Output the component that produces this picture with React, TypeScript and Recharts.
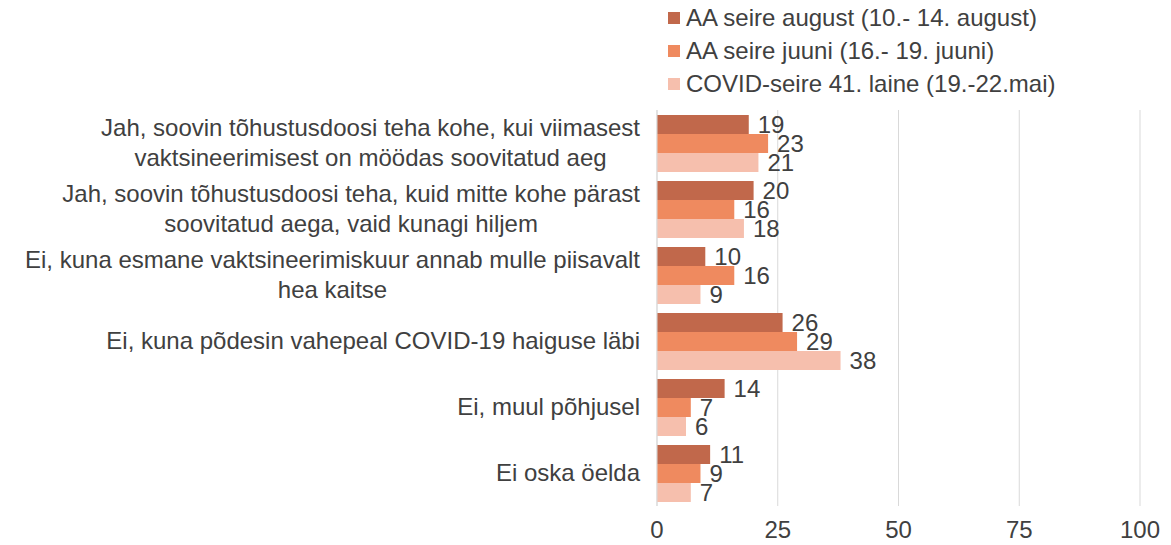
import { BarChart, Bar, XAxis, YAxis, CartesianGrid, LabelList, Legend } from 'recharts'

const categories = [
  'Jah, soovin tõhustusdoosi teha kohe, kui viimasest\nvaktsineerimisest on möödas soovitatud aeg',
  'Jah, soovin tõhustusdoosi teha, kuid mitte kohe pärast\nsoovitatud aega, vaid kunagi hiljem',
  'Ei, kuna esmane vaktsineerimiskuur annab mulle piisavalt\nhea kaitse',
  'Ei, kuna põdesin vahepeal COVID-19 haiguse läbi',
  'Ei, muul põhjusel',
  'Ei oska öelda',
]
const august = [19, 20, 10, 26, 14, 11]
const juuni = [23, 16, 16, 29, 7, 9]
const mai = [21, 18, 9, 38, 6, 7]
const seriesNames = [
  'AA seire august (10.- 14. august)',
  'AA seire juuni (16.- 19. juuni)',
  'COVID-seire 41. laine (19.-22.mai)',
]
const colors = ['#c1684b', '#ef8a5f', '#f6bfad']
const xTicks = [0, 25, 50, 75, 100]

const data = categories.map((name, i) => ({
  name,
  august: august[i],
  juuni: juuni[i],
  mai: mai[i],
}))

const FAMILY = '"Liberation Sans", Arial, sans-serif'
const FONT = `24px ${FAMILY}`
const TEXT = '#404040'

let ctx: CanvasRenderingContext2D | null = null
function measure(s: string) {
  if (!ctx) ctx = document.createElement('canvas').getContext('2d')
  if (!ctx) return s.length * 11
  ctx.font = FONT
  return ctx.measureText(s).width
}

function CategoryTick(props: any) {
  const { x, y, payload } = props
  const lines = String(payload.value).split('\n')
  const lh = 30
  const maxW = Math.max(...lines.map(measure))
  const right = x - 9
  const cx = right - maxW / 2
  const y0 = y - ((lines.length - 1) * lh) / 2
  return (
    <g>
      {lines.map((l, i) => (
        <text
          key={i}
          x={lines.length > 1 ? cx : right}
          y={y0 + i * lh}
          dy={8}
          textAnchor={lines.length > 1 ? 'middle' : 'end'}
          fill={TEXT}
          style={{ font: FONT }}
        >
          {l}
        </text>
      ))}
    </g>
  )
}

function LegendBox() {
  return (
    <div style={{ font: FONT, color: TEXT }}>
      {seriesNames.map((n, i) => (
        <div key={n} style={{ display: 'flex', alignItems: 'center', height: 33 }}>
          <span style={{ width: 12, height: 12, background: colors[i], marginRight: 6, display: 'inline-block' }} />
          <span>{n}</span>
        </div>
      ))}
    </div>
  )
}

export default function App() {
  return (
    <div style={{ position: 'absolute', left: 0, top: 0, background: '#fff' }}>
      <BarChart
        width={1171}
        height={545}
        data={data}
        layout="vertical"
        margin={{ top: 110, right: 31, bottom: 7, left: 0 }}
        barCategoryGap={5}
        barGap={0}
      >
        <CartesianGrid horizontal={false} stroke="#d9d9d9" />
        <XAxis
          type="number"
          domain={[0, 100]}
          ticks={xTicks}
          axisLine={false}
          tickLine={false}
          tick={{ fill: TEXT, fontSize: 24, fontFamily: FAMILY }}
          tickMargin={9}
          height={32}
        />
        <YAxis
          type="category"
          dataKey="name"
          width={657}
          axisLine={{ stroke: '#d9d9d9' }}
          tickLine={false}
          tick={<CategoryTick />}
          interval={0}
        />
        <Legend
          layout="vertical"
          align="center"
          verticalAlign="middle"
          content={<LegendBox />}
          wrapperStyle={{ top: 1, left: 668, width: 500 }}
        />
        {(['august', 'juuni', 'mai'] as const).map((k, i) => (
          <Bar key={k} dataKey={k} name={seriesNames[i]} fill={colors[i]} isAnimationActive={false}>
            <LabelList
              dataKey={k}
              position="right"
              offset={9}
              fill={TEXT}
              style={{ font: FONT }}
            />
          </Bar>
        ))}
      </BarChart>
    </div>
  )
}
